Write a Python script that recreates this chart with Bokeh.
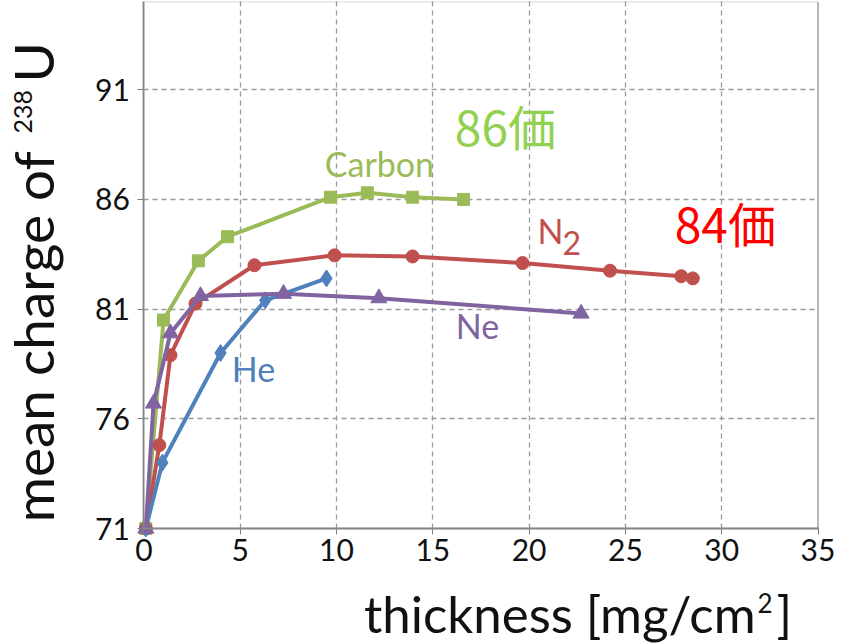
import math
from bokeh.plotting import figure
from bokeh.models import Label, FixedTicker, BoxAnnotation
from bokeh.embed import file_html
from bokeh.resources import INLINE

# ---- data ----
carbon_x = [0.1, 1.02, 2.83, 4.34, 9.69, 11.6, 13.95, 16.6]
carbon_y = [71.0, 80.5, 83.2, 84.3, 86.1, 86.3, 86.1, 86.0]

n2_x = [0.1, 0.8, 1.38, 2.68, 5.74, 9.9, 13.95, 19.66, 24.2, 27.9, 28.5]
n2_y = [71.0, 74.8, 78.9, 81.25, 83.0, 83.45, 83.4, 83.1, 82.75, 82.5, 82.4]

he_x = [0.1, 0.96, 3.98, 6.3, 9.48]
he_y = [71.0, 74.0, 79.0, 81.4, 82.4]

ne_x = [0.1, 0.5, 1.38, 2.94, 7.25, 12.2, 22.7]
ne_y = [71.0, 76.7, 79.9, 81.6, 81.7, 81.5, 80.8]

x_ticks = [0, 5, 10, 15, 20, 25, 30, 35]
y_ticks = [71, 76, 81, 86, 91]
X_MIN, X_MAX = 0, 35
Y_MIN, Y_MAX = 71, 95

GREEN = "#9BBB59"
RED = "#C0504D"
PURPLE = "#8064A2"
BLUE = "#4F81BD"
FONT = "Lato"

# frame spans the whole canvas; axes are pinned at the data box edges
p = figure(width=841, height=644, x_range=(-7.445, 36.22), y_range=(65.713, 95.066),
           output_backend="svg", toolbar_location=None,
           min_border_left=0, min_border_right=0, min_border_top=0, min_border_bottom=0)
p.background_fill_color = "white"
p.border_fill_color = "white"
p.outline_line_color = None

p.xaxis.fixed_location = Y_MIN
p.yaxis.fixed_location = X_MIN
p.xaxis.bounds = (X_MIN, X_MAX)
p.yaxis.bounds = (Y_MIN, Y_MAX)

for ax in (p.xaxis[0], p.yaxis[0]):
    ax.axis_line_color = "#808080"
    ax.axis_line_width = 1.8
    ax.major_tick_line_color = "#808080"
    ax.major_tick_out = 6
    ax.major_tick_in = 0
    ax.minor_tick_line_color = None
    ax.major_label_text_font = FONT
    ax.major_label_text_font_size = "30px"
    ax.major_label_text_color = "#111111"

p.xaxis.ticker = FixedTicker(ticks=x_ticks)
p.yaxis.ticker = FixedTicker(ticks=y_ticks)
p.xaxis.major_label_standoff = 4
p.yaxis.major_label_standoff = 8

p.xgrid.ticker = FixedTicker(ticks=x_ticks[1:-1])
p.ygrid.ticker = FixedTicker(ticks=y_ticks[1:])
p.xgrid.cross_bounds = (Y_MIN, Y_MAX)
p.ygrid.cross_bounds = (X_MIN, X_MAX)
for g in (p.xgrid[0], p.ygrid[0]):
    g.grid_line_color = "#9a9a9a"
    g.grid_line_dash = "5 4"
    g.grid_line_width = 1.3

p.add_layout(BoxAnnotation(left=X_MIN, right=X_MAX, bottom=Y_MIN, top=Y_MAX,
                           fill_alpha=0, line_color="#9a9a9a", line_width=1.3))
p.add_layout(BoxAnnotation(left=X_MAX, right=X_MAX, bottom=Y_MIN, top=Y_MAX,
                           fill_alpha=0, line_color="#404040", line_width=2))

# ---- series ----
p.line(carbon_x, carbon_y, line_color=GREEN, line_width=4)
p.scatter(carbon_x, carbon_y, marker="square", size=12, fill_color=GREEN, line_color=GREEN)

p.line(n2_x, n2_y, line_color=RED, line_width=4)
p.scatter(n2_x, n2_y, marker="circle", size=13, fill_color=RED, line_color=RED)

p.line(he_x, he_y, line_color=BLUE, line_width=4)
p.scatter(he_x, he_y, marker="diamond", size=17, fill_color=BLUE, line_color=BLUE)

p.line(ne_x, ne_y, line_color=PURPLE, line_width=4)
p.scatter(ne_x, ne_y, marker="triangle", size=16, fill_color=PURPLE, line_color=PURPLE)


def lab(x, y, t, color, size, font=FONT, align="center", baseline="middle", angle=0.0):
    p.add_layout(Label(x=x, y=y, text=t, text_color=color, text_font=font,
                       text_font_size=size, text_align=align, text_baseline=baseline,
                       angle=angle))


# ---- in-plot labels ----
lab(12.23, 87.64, "Carbon", GREEN, "34px")
lab(5.69, 78.29, "He", BLUE, "34px")
lab(17.32, 80.25, "Ne", PURPLE, "34px")
lab(20.43, 84.58, "N", RED, "34px", align="left")
lab(21.73, 84.0, "2", RED, "32px", align="left")
lab(18.77, 89.41, "86価", "#92D050", "48px", font="Noto Sans CJK JP")
lab(30.19, 84.95, "84価", "#FF0000", "48px", font="Noto Sans CJK JP")

# ---- axis titles ----
lab(31.76, 67.12, "thickness [mg/cm", "#111111", "51px", align="right", baseline="alphabetic")
lab(31.86, 67.62, "2", "#111111", "26px", align="left", baseline="alphabetic")
lab(32.85, 67.12, "]", "#111111", "51px", align="left", baseline="alphabetic")

lab(-5.78, 88.2, "mean charge of", "#111111", "55px", align="right", baseline="alphabetic",
    angle=math.pi / 2)
lab(-6.30, 89.0, "238", "#111111", "25px", align="left", baseline="alphabetic",
    angle=math.pi / 2)
lab(-5.78, 91.33, "U", "#111111", "55px", align="left", baseline="alphabetic",
    angle=math.pi / 2)

open("out.html", "w").write(file_html(p, INLINE))
